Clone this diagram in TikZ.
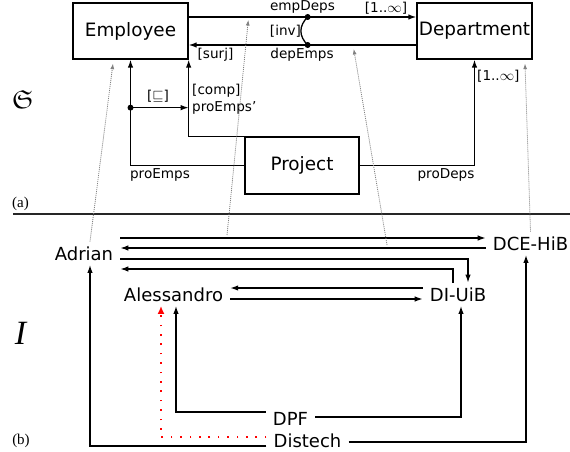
\documentclass[tikz,border=0pt]{standalone}
\usepackage{amssymb}
\usepackage{fontspec}
\setmainfont{DejaVu Sans}
\newfontfamily\serif{Liberation Serif}
\usetikzlibrary{arrows.meta}

\begin{document}
\begin{tikzpicture}[x=1pt,y=-1pt,
  arr/.style={line width=1.3pt,-{Latex[length=8pt,width=5.5pt]}},
  plain/.style={line width=1.3pt},
  entity/.style={draw,line width=1.3pt,minimum width=115pt,minimum height=56pt,
    inner sep=0pt,font=\fontsize{18.4}{22}\selectfont},
  lbl/.style={inner sep=0pt,anchor=base,font=\fontsize{13.6}{16}\selectfont},
  inst/.style={inner xsep=7pt,inner ysep=4.5pt,anchor=base,font=\fontsize{18}{22}\selectfont},
  typing/.style={gray,line width=0.8pt,dash pattern=on 1pt off 1pt,
    -{Latex[length=5.5pt,width=4pt]}},
  conflict/.style={red,line width=1.6pt,dash pattern=on 1.6pt off 7.8pt,
    -{Latex[length=8pt,width=7pt]}},
  margin/.style={inner sep=0pt}
]
\useasboundingbox (0,0) rectangle (570,452);

% ---------------- schema graph ----------------
\node[entity] (emp) at (130.5,31) {Employee};
\node[entity] (dept) at (474.5,31) {Department};
\node[entity,minimum width=114pt,minimum height=57pt] (proj) at (302,165.5) {Project};

\path (emp.east) ++(119,-14) coordinate (ed) ++(0,28) coordinate (de);
\path (emp.south) ++(0,48) coordinate (sq);

% empDeps / depEmps with the inverse constraint
\draw[arr] (emp.east |- ed) -- node[coordinate,pos=0.262] (ted) {} (dept.west |- ed);
\draw[arr] (dept.west |- de) -- node[coordinate,pos=0.275] (tde) {} (emp.east |- de);
\draw[plain] (ed) .. controls +(-9,9) and +(-9,-9) .. (de);
\fill (ed) circle (3pt);
\fill (de) circle (3pt);

% project arrows
\draw[arr] (proj.north west) -| (emp.south east);
\draw[arr] (proj.west) -| (emp.south);
\draw[arr] (sq) -- (sq -| emp.south east);
\fill (sq) circle (3pt);
\draw[arr] (proj.east) -| (dept.south);

% labels
\node[lbl] (lempdeps) at (302.5,11) {empDeps};
\node[lbl] (ldepemps) at (302,59) {depEmps};
\node[lbl] (linv) at (285.5,36) {[inv]};
\node[lbl] (lcardA) at (386,13) {[1..$\infty$]};
\node[lbl] (lsurj) at (215.5,59) {[surj]};
\node[lbl] (lsub) at (158,100) {[$\sqsubseteq$]};
\node[lbl,anchor=base west] (lcomp) at (192,94) {[comp]};
\node[lbl,anchor=base west] (lproemps2) at (192,111) {proEmps'};
\node[lbl] (lproemps) at (160,178) {proEmps};
\node[lbl] (lprodeps) at (446,178) {proDeps};
\node[lbl,anchor=base west] (lcardB) at (477,81) {[1..$\infty$]};

% margin marks and separator
\node[margin] (mS) at (23,100) {\fontsize{26}{30}\selectfont$\mathfrak{S}$};
\node[margin,anchor=base] (ma) at (20.5,207) {\serif\fontsize{15}{18}\selectfont (a)};
\draw[line width=1.6pt,black!85] (13,214) -- (570,214);
\node[margin] (mI) at (20.5,333.5) {\serif\itshape\fontsize{34}{40}\selectfont I};
\node[margin,anchor=base] (mb) at (21,444) {\serif\fontsize{15}{18}\selectfont (b)};

% ---------------- instance graph ----------------
\node[inst] (adrian) at (84,260) {Adrian};
\node[inst] (aless) at (173.5,301) {Alessandro};
\node[inst] (diuib) at (458,301) {DI-UiB};
\node[inst] (dcehib) at (530.5,250) {DCE-HiB};
\node[inst] (dpf) at (290.5,425) {DPF};
\node[inst] (distech) at (307.5,447) {Distech};

\coordinate (a1) at ([yshift=22pt]adrian.base east);
\coordinate (a2) at ([yshift=12pt]adrian.base east);
\coordinate (a3) at ([yshift=1pt]adrian.base east);
\coordinate (a4) at ([yshift=-9pt]adrian.base east);

\draw[arr] (a1) -- node[coordinate,pos=0.292] (m1) {} (a1 -| dcehib.west);
\draw[arr] (a2 -| dcehib.west) -- node[coordinate,pos=0.27] (m2) {} (a2);
\draw[arr] (a3) -| ([xshift=10pt]diuib.north);
\draw[arr] ([xshift=-5pt]diuib.north) |- (a4);

\draw[arr] ([yshift=13pt]diuib.base west) -- ([yshift=13pt]aless.base east);
\draw[arr] ([yshift=2pt]aless.base east) -- ([yshift=2pt]diuib.base west);

\draw[arr] ([yshift=13pt]dpf.base west) -| ([xshift=2.5pt]aless.south);
\draw[arr] ([yshift=8pt]dpf.base east) -| ([xshift=3pt]diuib.south);

\draw[arr] ([yshift=1pt]distech.base west) -| ([xshift=6pt]adrian.south);
\draw[conflict] ([yshift=10pt]distech.base west) -| ([xshift=-12.5pt]aless.south);
\draw[arr] ([yshift=5pt]distech.base east) -| ([xshift=-4.5pt]dcehib.south);

% typing morphism
\draw[typing] ([xshift=6pt]adrian.north) -- ([xshift=-17.5pt,yshift=-4pt]emp.south);
\draw[typing] ([yshift=3pt]m1) -- ([yshift=-3pt]ted);
\draw[typing] ([yshift=3pt]m2) -- ([yshift=-4pt]tde);
\draw[typing] (dcehib.north) -- ([xshift=50.5pt,yshift=-4pt]dept.south);
\end{tikzpicture}
\end{document}
